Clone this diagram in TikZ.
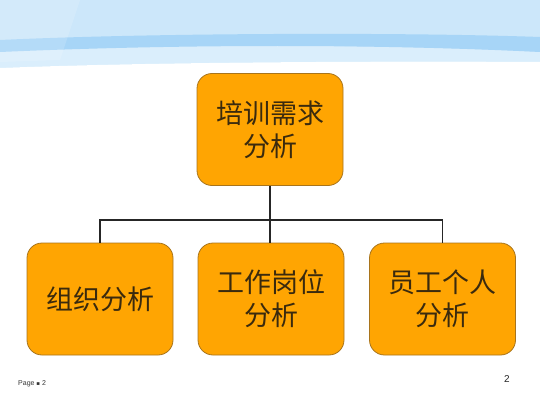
\documentclass[tikz,border=0pt]{standalone}
\usepackage{fontspec}
\setmainfont{Liberation Sans}
\newfontfamily\cjk{Noto Sans CJK SC}
\newfontfamily\djv{DejaVu Sans}
\definecolor{boxfill}{HTML}{FFA502}
\definecolor{boxline}{HTML}{A8741C}
\definecolor{boxtext}{HTML}{3A2A0E}
\definecolor{skytop}{HTML}{CCE7FA}
\definecolor{skyband}{HTML}{A7D5F7}
\definecolor{skylow}{HTML}{DAEEFC}
\tikzset{
  box/.style={draw=boxline, line width=0.8pt, fill=boxfill, rounded corners=15pt,
    minimum width=146pt, minimum height=112pt, inner sep=0pt, align=center,
    text=boxtext, font=\cjk\fontsize{27}{33}\selectfont},
  conn/.style={draw=black!85, line width=1.4pt},
}
\begin{document}
\begin{tikzpicture}[x=1pt,y=-1pt]
\useasboundingbox (0,0) rectangle (540,404);
% banner
\fill[skytop] (0,0) rectangle (540,70);
\fill[skylow] (0,50) .. controls (180,44) and (380,44) .. (540,52) -- (540,62) .. controls (380,61) and (150,62) .. (0,68) -- cycle;
\fill[skyband] (0,40) .. controls (150,33) and (400,32) .. (540,37) -- (540,52) .. controls (380,44) and (180,44) .. (0,52) -- cycle;
\fill[white] (0,68) .. controls (150,62) and (380,61) .. (540,62) -- (540,72) -- (0,72) -- cycle;
\fill[white, opacity=0.15] (0,0) -- (80,0) -- (60,60) -- (0,62) -- cycle;
% nodes
\node[box] (top) at (270,129.5) {培训需求\\分析};
\node[box] (left) at (100,299) {组织分析};
\node[box] (mid) at (271,299) {工作岗位\\分析};
\node[box] (right) at (442.5,299) {员工个人\\分析};
% connectors
\coordinate (bus) at (270,220);
\draw[conn] (top.south) -- (bus);
\draw[conn] (left.north) |- (bus) -| (right.north);
\draw[conn] (bus) -- (mid.north -| bus);
% footer
\node[anchor=west, inner sep=0pt, text=black!80, font=\fontsize{7}{8}\selectfont] (pg) at (18,384) {Page {\djv\fontsize{5.5}{8}\selectfont ▪} 2};
\node[inner sep=0pt, text=black!85, font=\fontsize{10}{12}\selectfont] (num) at (507,379) {2};
\end{tikzpicture}
\end{document}
